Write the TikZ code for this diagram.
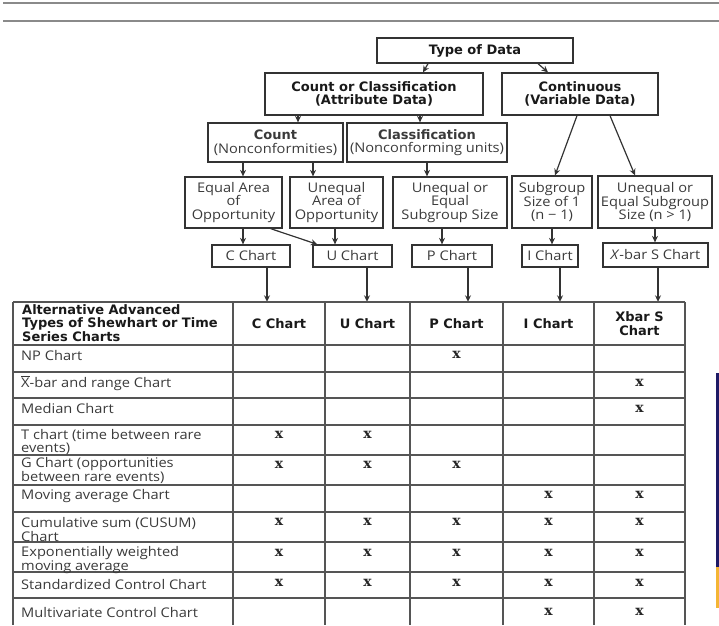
\documentclass[tikz,border=0pt]{standalone}
\usepackage{fontspec}
\setmainfont[FakeStretch=1.1]{Open Sans}
\newfontfamily\hdfont{DejaVu Sans}
\newfontfamily\xfont{DejaVu Serif}
\usetikzlibrary{arrows.meta}
\definecolor{boxc}{HTML}{333333}
\definecolor{txtc}{HTML}{3A3A3A}
\definecolor{gridc}{HTML}{555555}
\definecolor{topc}{HTML}{8A8A8A}
\definecolor{navy}{HTML}{1E1A66}
\definecolor{gold}{HTML}{F4B534}
\newcommand\fsreg{\fontsize{13.3}{13.6}\selectfont}
\newcommand\fsbold{\hdfont\bfseries\fontsize{13}{13.8}\selectfont}
\newcommand\fsx{\xfont\bfseries\fontsize{14}{14}\selectfont}
\begin{document}
\begin{tikzpicture}[x=1pt,y=-1pt,
  box/.style={draw=boxc, line width=1.3pt, inner sep=0pt, align=center, font=\fsreg, text=txtc},
  hbox/.style={box, font=\fsbold, text=black!90},
  arr/.style={draw=boxc, line width=1.2pt, -{Stealth[length=6.5pt,width=6pt]}},
  grid/.style={draw=gridc, line width=1.2pt},
  topline/.style={draw=topc, line width=2pt},
  rowlab/.style={anchor=west, inner sep=0pt, align=left, font=\fsreg, text=txtc},
  colhead/.style={inner sep=0pt, align=center, font=\fsbold, text=black!90},
  xm/.style={inner sep=0pt, font=\fsx, text=black!85}]
\useasboundingbox (0,0) rectangle (719,625);
\draw[topline] (3,3) -- (719,3);
\draw[topline] (3,21) -- (719,21);

% flow boxes
\node[hbox, minimum width=196pt, minimum height=25pt] (type) at (475,50.5) {Type of Data};
\node[hbox, minimum width=218pt, minimum height=42pt] (attr) at (374,94) {Count or Classification\\(Attribute Data)};
\node[hbox, minimum width=156pt, minimum height=42pt] (cont) at (580,94) {Continuous\\(Variable Data)};
\node[box, minimum width=135pt, minimum height=39pt] (count) at (275.5,142.5) {{\fsbold Count}\\(Nonconformities)};
\node[box, minimum width=160pt, minimum height=39pt] (class) at (427,142.5) {{\fsbold Classification}\\(Nonconforming units)};
\node[box, minimum width=97pt, minimum height=51pt] (equal) at (233.5,202.5) {Equal Area\\of\\Opportunity};
\node[box, minimum width=93pt, minimum height=51pt] (unequal) at (336.5,202.5) {Unequal\\Area of\\Opportunity};
\node[box, minimum width=114pt, minimum height=51pt] (ueq) at (450,202.5) {Unequal or\\Equal\\Subgroup Size};
\node[box, minimum width=80pt, minimum height=52pt] (sub1) at (552,202) {Subgroup\\Size of 1\\(n − 1)};
\node[box, minimum width=114pt, minimum height=52pt] (ueqsub) at (655,202) {Unequal or\\Equal Subgroup\\Size (n > 1)};
\node[box, minimum width=78pt, minimum height=22pt] (cchart) at (251,256) {C Chart};
\node[box, minimum width=79pt, minimum height=22pt] (uchart) at (352.5,256) {U Chart};
\node[box, minimum width=80pt, minimum height=22pt] (pchart) at (452,256) {P Chart};
\node[box, minimum width=56pt, minimum height=22pt] (ichart) at (550,256) {I Chart};
\node[box, minimum width=105pt, minimum height=24pt] (xschart) at (655.5,255) {\textit{X}-bar S Chart};

% table header nodes
\node[colhead, minimum width=92pt, minimum height=43pt] (hc) at (279,323.5) {C Chart};
\node[colhead, minimum width=85pt, minimum height=43pt] (hu) at (367.5,323.5) {U Chart};
\node[colhead, minimum width=93pt, minimum height=43pt] (hp) at (456.5,323.5) {P Chart};
\node[colhead, minimum width=91pt, minimum height=43pt] (hi) at (548.5,323.5) {I Chart};
\node[colhead, minimum width=91pt, minimum height=43pt] (hx) at (639.5,323.5) {Xbar S\\Chart};
\node[colhead, anchor=west, align=left] (ha) at (22,323) {Alternative Advanced\\Types of Shewhart or Time\\Series Charts};

% connectors
\coordinate (t1) at ([xshift=-47pt]type.south);
\coordinate (t1e) at ([xshift=49pt]attr.north);
\coordinate (t2) at ([xshift=63pt]type.south);
\coordinate (t2e) at ([xshift=-32pt]cont.north);
\draw[arr] (t1) -- (t1e);
\draw[arr] (t2) -- (t2e);
\coordinate (a1) at ([xshift=-76pt]attr.south);
\coordinate (a2) at ([xshift=46pt]attr.south);
\draw[arr] (a1) -- (a1 |- count.north);
\draw[arr] (a2) -- (a2 |- class.north);
\coordinate (c1) at ([xshift=-32.5pt]count.south);
\coordinate (c2) at ([xshift=37.5pt]count.south);
\draw[arr] (c1) -- (c1 |- equal.north);
\draw[arr] (c2) -- (c2 |- unequal.north);
\draw[arr] (class.south) -- (class.south |- ueq.north);
\coordinate (v1) at ([xshift=-3pt]cont.south);
\coordinate (v1e) at ([xshift=3pt]sub1.north);
\coordinate (v2) at ([xshift=30pt]cont.south);
\coordinate (v2e) at ([xshift=-20pt]ueqsub.north);
\draw[arr] (v1) -- (v1e);
\draw[arr] (v2) -- (v2e);
\coordinate (e1) at ([xshift=9.5pt]equal.south);
\draw[arr] (e1) -- (e1 |- cchart.north);
\coordinate (e2) at ([xshift=-12pt]equal.south east);
\coordinate (e2e) at ([xshift=5pt]uchart.north west);
\draw[arr] (e2) -- (e2e);
\coordinate (u1) at ([xshift=-1.5pt]unequal.south);
\draw[arr] (u1) -- (u1 |- uchart.north);
\coordinate (q1) at ([xshift=-8pt]ueq.south);
\draw[arr] (q1) -- (q1 |- pchart.north);
\draw[arr] (sub1.south) -- (sub1.south |- ichart.north);
\draw[arr] (ueqsub.south) -- (ueqsub.south |- xschart.north);
\coordinate (k1) at ([xshift=16pt]cchart.south);
\coordinate (k2) at ([xshift=14.5pt]uchart.south);
\coordinate (k3) at ([xshift=16pt]pchart.south);
\coordinate (k4) at ([xshift=10pt]ichart.south);
\coordinate (k5) at ([xshift=2.5pt]xschart.south);
\draw[arr] (k1) -- (k1 |- hc.north);
\draw[arr] (k2) -- (k2 |- hu.north);
\draw[arr] (k3) -- (k3 |- hp.north);
\draw[arr] (k4) -- (k4 |- hi.north);
\draw[arr] (k5) -- (k5 |- hx.north);

% table grid
\foreach \xx in {13,233,325,410,503,594,685} \draw[grid] (\xx,302) -- (\xx,625);
\foreach \yy in {302,345,372,398,425,455,485,512,542,572,598} \draw[grid] (13,\yy) -- (685,\yy);

% row labels
\node[rowlab] (r1) at (21,356) {NP Chart};
\node[rowlab] (r2) at (21,383) {$\overline{\mbox{X}}$-bar and range Chart};
\node[rowlab] (r3) at (21,409) {Median Chart};
\node[rowlab] (r4) at (21,442) {T chart (time between rare\\events)};
\node[rowlab] (r5) at (21,470.5) {G Chart (opportunities\\between rare events)};
\node[rowlab] (r6) at (21,496) {Moving average Chart};
\node[rowlab] (r7) at (21,529.5) {Cumulative sum (CUSUM)\\Chart};
\node[rowlab] (r8) at (21,560) {Exponentially weighted\\moving average};
\node[rowlab] (r9) at (21,584) {Standardized Control Chart};
\node[rowlab] (r10) at (21,612) {Multivariate Control Chart};

% x marks
\foreach \cx/\cy [count=\n] in {456.5/355, 639.5/383, 639.5/409, 279/435, 367.5/435,
  279/465, 367.5/465, 456.5/465, 548.5/495, 639.5/495,
  279/522, 367.5/522, 456.5/522, 548.5/522, 639.5/522,
  279/553, 367.5/553, 456.5/553, 548.5/553, 639.5/553,
  279/583, 367.5/583, 456.5/583, 548.5/583, 639.5/583,
  548.5/612, 639.5/612}
  \node[xm] (m\n) at (\cx,\cy) {x};

% side strip
\fill[navy] (716,373) rectangle (719,567);
\fill[gold] (716,567) rectangle (719,608);
\end{tikzpicture}
\end{document}
